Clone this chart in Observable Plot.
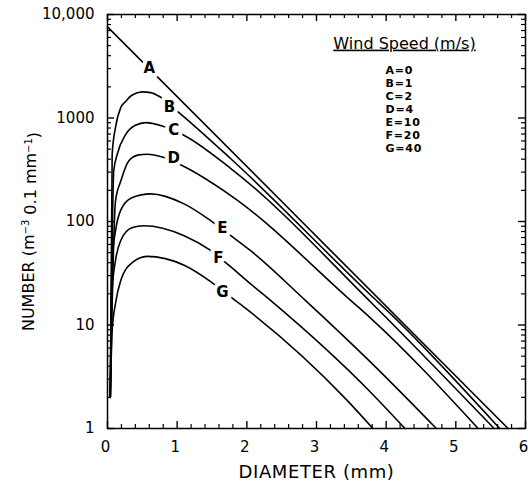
<!DOCTYPE html>
<html><head><meta charset="utf-8">
<script src="https://cdn.jsdelivr.net/npm/d3@7"></script>
<script src="https://cdn.jsdelivr.net/npm/@observablehq/plot@0.6"></script>
<style>
body{margin:0;background:#fff}
#chart{width:528px;height:483px}
svg{overflow:visible}
svg text{font-family:"DejaVu Sans",sans-serif}
</style>
</head><body><div id="chart"></div>
<script>
// ---- data (diameter in mm, number) ----
const dA = [0, 5.75];
const nA = [7600, 1];
const dB = [0.04, 0.067, 0.115, 0.19, 0.26, 0.35, 0.5, 0.62, 0.74, 1.0, 1.77, 3.78, 4.06, 5.63];
const nB = [2, 447, 813, 1260, 1445, 1660, 1790, 1760, 1620, 1167, 404, 19.4, 12.9, 1];
const dC = [0.04, 0.09, 0.14, 0.26, 0.4, 0.55, 0.785, 1.07, 1.77, 3.78, 5.55];
const nC = [2, 309, 447, 692, 851, 902, 837, 697, 325, 16.6, 1];
const dD = [0.04, 0.115, 0.19, 0.31, 0.45, 0.57, 0.8, 1.07, 1.77, 3.49, 3.78, 5.32];
const nD = [2, 158, 245, 389, 440, 447, 417, 347, 178, 17.3, 11.6, 1];
const dE = [0.04, 0.067, 0.115, 0.19, 0.35, 0.62, 1.1, 1.48, 1.77, 2.05, 2.84, 3.78, 4.72];
const nE = [2, 42, 81, 129, 170, 185, 148, 102, 73, 52.5, 17.3, 4.35, 1];
const dF = [0.04, 0.067, 0.115, 0.19, 0.35, 0.52, 1.1, 1.48, 1.74, 2.05, 2.34, 3.78, 4.27];
const nF = [2, 21.9, 42, 65.6, 87, 91, 73, 52.5, 37.8, 25.1, 17.3, 2.23, 1];
const dG = [0.04, 0.067, 0.115, 0.19, 0.35, 0.57, 1.1, 1.48, 1.77, 1.91, 3.44, 3.81];
const nG = [2, 8.9, 16.2, 26.9, 39.8, 46, 37.8, 26.3, 18.6, 15.8, 1.87, 1];

const curveIds = ["A", "B", "C", "D", "E", "F", "G"];
const labelD = [0.60, 0.89, 0.95, 0.95, 1.65, 1.59, 1.65];
const labelN = [3000, 1260, 757, 406, 85.5, 44, 20.6];

const legendTitle = "Wind Speed (m/s)";
const legendEntries = ["A=0", "B=1", "C=2", "D=4", "E=10", "F=20", "G=40"];

const xMajor = [0, 1, 2, 3, 4, 5, 6];
const xTickLabels = ["0", "1", "2", "3", "4", "5", "6"];
const yMajor = [1, 10, 100, 1000, 10000];
const yTickLabels = ["1", "10", "100", "1000", "10,000"];
const xLabel = "DIAMETER (mm)";
const yLabelParts = ["NUMBER (m", "\u22123", " 0.1 mm", "\u22121", ")"];

// ---- build tables ----
const series = [[dA, nA], [dB, nB], [dC, nC], [dD, nD], [dE, nE], [dF, nF], [dG, nG]];
const rows = series.flatMap(([ds, ns], k) => ds.map((d, i) => ({id: curveIds[k], d, n: ns[i]})));
const labels = curveIds.map((id, i) => ({id, d: labelD[i], n: labelN[i]}));
const xMinor = d3.range(1, 30).map(i => i / 5).filter(v => Math.abs(v - Math.round(v)) > 1e-9);
const yMinor = [1, 10, 100, 1000].flatMap(e => d3.range(2, 10).map(k => k * e));

const W = 528, H = 483, mL = 107, mR = 3, mT = 14, mB = 55;
const fw = W - mL - mR, fh = H - mT - mB;
const font = "DejaVu Sans, sans-serif";
const yLabelKey = yLabelParts.join("");

const chart = Plot.plot({
  width: W, height: H,
  marginLeft: mL, marginRight: mR, marginTop: mT, marginBottom: mB,
  style: {fontFamily: font, fontSize: "15px", color: "#000", background: "#fff"},
  x: {domain: [0, 6], axis: null},
  y: {type: "log", domain: [1, 10000], axis: null},
  marks: [
    Plot.frame({stroke: "#000", strokeWidth: 1.5}),
    // inward ticks, all four sides
    Plot.tickX(xMinor, {x: d => d, insetTop: fh - 4, stroke: "#000", strokeWidth: 1.2}),
    Plot.tickX(xMinor, {x: d => d, insetBottom: fh - 4, stroke: "#000", strokeWidth: 1.2}),
    Plot.tickX(xMajor, {x: d => d, insetTop: fh - 7, stroke: "#000", strokeWidth: 1.4}),
    Plot.tickX(xMajor, {x: d => d, insetBottom: fh - 7, stroke: "#000", strokeWidth: 1.4}),
    Plot.tickY(yMinor, {y: d => d, insetRight: fw - 4, stroke: "#000", strokeWidth: 1.2}),
    Plot.tickY(yMinor, {y: d => d, insetLeft: fw - 4, stroke: "#000", strokeWidth: 1.2}),
    Plot.tickY(yMajor, {y: d => d, insetRight: fw - 7, stroke: "#000", strokeWidth: 1.4}),
    Plot.tickY(yMajor, {y: d => d, insetLeft: fw - 7, stroke: "#000", strokeWidth: 1.4}),
    // tick labels (through the scales)
    Plot.text(xMajor, {x: d => d, text: d => xTickLabels[xMajor.indexOf(d)], frameAnchor: "bottom",
      lineAnchor: "middle", dx: -2, dy: 19, fontSize: 15, fill: "#000"}),
    Plot.text(yMajor, {y: d => d, text: d => yTickLabels[yMajor.indexOf(d)], frameAnchor: "left",
      textAnchor: "end", lineAnchor: "middle", dx: -13, fontSize: 15, fill: "#000"}),
    // curves
    Plot.line(rows, {x: "d", y: "n", z: "id", curve: "monotone-x", stroke: "#000", strokeWidth: 1.6}),
    Plot.text(labels, {x: "d", y: "n", text: "id", fontSize: 15, fontWeight: "bold", fill: "#000",
      stroke: "#fff", strokeWidth: 8}),
    // legend inside the frame
    Plot.text([legendTitle], {frameAnchor: "top-left", dx: 297, dy: 29, textAnchor: "middle",
      lineAnchor: "middle", fontSize: 16, fill: "#000"}),
    Plot.text([legendEntries.join("\n")], {frameAnchor: "top-left", dx: 278, dy: 50, textAnchor: "start",
      lineAnchor: "top", lineHeight: 1.18, fontSize: 11, fontWeight: "bold", fill: "#000"}),
    // axis titles
    Plot.text([xLabel], {frameAnchor: "bottom", textAnchor: "middle", lineAnchor: "middle", dy: 44,
      fontSize: 18, fill: "#000"}),
    Plot.text([yLabelKey], {frameAnchor: "left", textAnchor: "middle", lineAnchor: "middle", dx: -79, dy: 10,
      rotate: -90, fontSize: 16, fill: "#000"})
  ]
});
document.getElementById("chart").appendChild(chart);
const svg = d3.select(chart);
svg.selectAll("text").filter(function() { return this.textContent === legendTitle; })
  .style("text-decoration", "underline");
svg.selectAll("text").filter(function() { return this.textContent === xLabel; })
  .style("letter-spacing", "0.6px");
svg.selectAll("text").filter(function() { return this.textContent === legendEntries.join(""); })
  .style("letter-spacing", "0.8px");
// y title with true superscripts
svg.selectAll("text").filter(function() { return this.textContent === yLabelKey; }).each(function() {
  const t = d3.select(this);
  t.text(null);
  t.append("tspan").text(yLabelParts[0]);
  t.append("tspan").attr("dy", "-0.45em").style("font-size", "10px").text(yLabelParts[1]);
  t.append("tspan").attr("dy", "0.45em").text(yLabelParts[2]);
  t.append("tspan").attr("dy", "-0.45em").style("font-size", "10px").text(yLabelParts[3]);
  t.append("tspan").attr("dy", "0.45em").text(yLabelParts[4]);
});
</script>
</body></html>
